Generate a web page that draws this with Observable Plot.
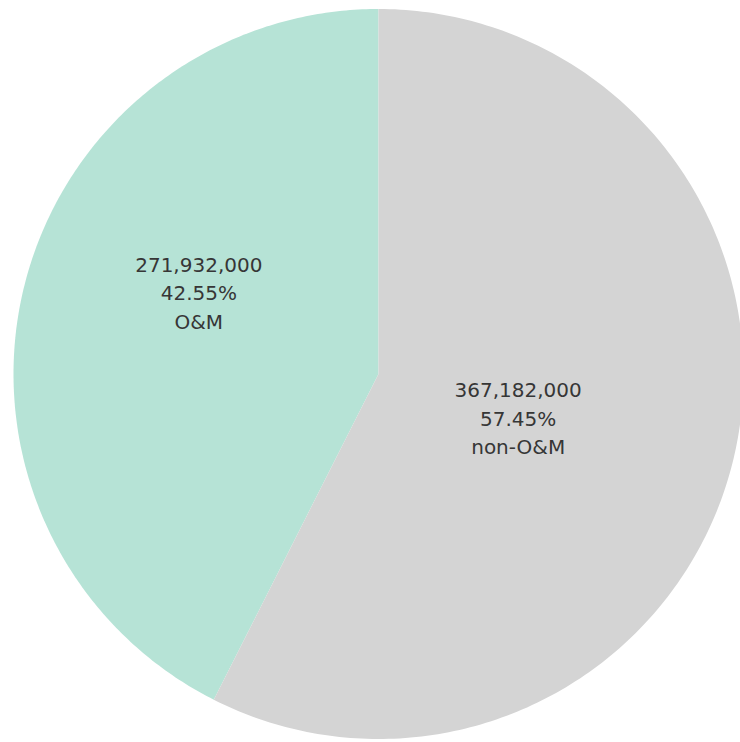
<!DOCTYPE html>
<html>
<head>
<meta charset="utf-8">
<script src="https://cdn.jsdelivr.net/npm/d3@7"></script>
<script src="https://cdn.jsdelivr.net/npm/@observablehq/plot@0.6"></script>
<style>
  html, body { margin: 0; padding: 0; background: #ffffff; }
  svg { display: block; }
</style>
</head>
<body>
<div id="chart"></div>
<script>
// Data
const categories = ["O&M", "non-O&M"];
const values = [271932000, 367182000];
const colors = ["#b6e3d6", "#d4d4d4"];

// Layout
const W = 740, H = 742;
const cx = 378, cy = 373.5, R = 365;

const total = d3.sum(values);
const rows = categories.map((c, i) => ({ name: c, value: values[i], pct: values[i] / total }));
// angles measured clockwise from top, in radians
// O&M runs counter-clockwise from 12 o'clock, non-O&M clockwise
const slices = [
  { ...rows[0], start: -rows[0].pct * 2 * Math.PI, end: 0 },
  { ...rows[1], start: 0, end: rows[1].pct * 2 * Math.PI }
];

const pts = [];
for (const s of slices) {
  pts.push({ name: s.name, x: 0, y: 0 });
  const n = 240;
  for (let k = 0; k <= n; k++) {
    const a = s.start + (s.end - s.start) * k / n;
    pts.push({ name: s.name, x: Math.sin(a), y: -Math.cos(a) });
  }
  pts.push({ name: s.name, x: 0, y: 0 });
}

const fmt = d3.format(",");
const labels = slices.map(s => {
  const mid = (s.start + s.end) / 2 + 0.14;
  const r = 0.47;
  return {
    x: r * Math.sin(mid),
    y: -r * Math.cos(mid),
    text: `${fmt(s.value)}\n${(s.pct * 100).toFixed(2)}%\n${s.name}`
  };
});

const chart = Plot.plot({
  width: W,
  height: H,
  margin: 0,
  x: { domain: [-cx / R, (W - cx) / R], range: [0, W], axis: null },
  y: { domain: [-cy / R, (H - cy) / R], range: [0, H], axis: null },
  color: { domain: categories, range: colors },
  style: { background: "#ffffff" },
  marks: [
    Plot.line(pts, { x: "x", y: "y", z: "name", fill: "name", stroke: "none", curve: "linear" }),
    Plot.text(labels, {
      x: "x", y: "y", text: "text", dx: -20, dy: -20,
      fontSize: 20, lineHeight: 1.42, fill: "#363636",
      fontFamily: "DejaVu Sans", textAnchor: "middle", lineAnchor: "middle"
    })
  ]
});
document.getElementById("chart").appendChild(chart);
</script>
</body>
</html>
